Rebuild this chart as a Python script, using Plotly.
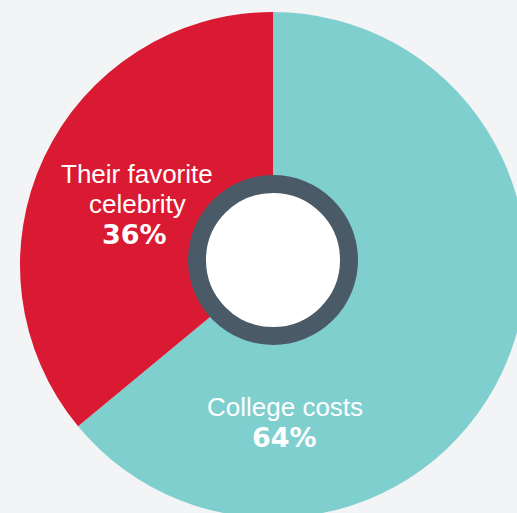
import plotly.graph_objects as go

# Survey split (listed clockwise from 12 o'clock)
categories = ["College costs", "Their favorite<br>celebrity"]
shares = [64, 36]
colors = ["#80cfcf", "#da1a32"]

# Canvas (slightly larger than the viewport so the pie bleeds off the edges)
W, H = 530, 520
BG = "#f3f4f6"
RING = "#4a5a67"

# Pie geometry in pixels
cx, cy, r = 273, 265, 253


def px(x):
    return x / W


def py(y):
    return 1 - y / H


fig = go.Figure(
    go.Pie(
        labels=[c.replace("<br>", " ") for c in categories],
        values=shares,
        marker=dict(colors=colors, line=dict(width=0)),
        sort=False,
        direction="clockwise",
        rotation=0,
        textinfo="none",
        hoverinfo="label+percent",
        showlegend=False,
        domain=dict(x=[px(cx - r), px(cx + r)], y=[py(cy + r), py(cy - r)]),
    )
)

# Centre badge: white disc with a dark slate ring
rc, ring_w, ry = 76, 18, 260
fig.add_shape(
    type="circle", xref="paper", yref="paper",
    x0=px(cx - rc), x1=px(cx + rc), y0=py(ry + rc), y1=py(ry - rc),
    fillcolor="white", line=dict(color=RING, width=ring_w), layer="above",
)

label_font = dict(family="Liberation Sans, Arial, sans-serif", size=26, color="white")
pct_font = dict(family="DejaVu Sans, sans-serif", size=27, color="white", weight="bold")

# Label anchors (pixel centres): x, then y of each text line, then y of the percentage
label_x = [284.5, 137]
label_line_y = [[407], [174, 204]]
pct_x = [284.5, 134.5]
pct_y = [437, 235]

for cat, val, lx, lys, vx, vy in zip(categories, shares, label_x, label_line_y, pct_x, pct_y):
    for line, ly in zip(cat.split("<br>"), lys):
        fig.add_annotation(
            x=px(lx), y=py(ly), xref="paper", yref="paper",
            text=line, showarrow=False, font=label_font,
            xanchor="center", yanchor="middle", align="center",
        )
    fig.add_annotation(
        x=px(vx), y=py(vy), xref="paper", yref="paper",
        text=f"<b>{val}%</b>", showarrow=False, font=pct_font,
        xanchor="center", yanchor="middle",
    )

fig.update_layout(
    width=W, height=H,
    margin=dict(l=0, r=0, t=0, b=0),
    paper_bgcolor=BG, plot_bgcolor=BG,
)

fig.write_html(
    "out.html",
    config={"displayModeBar": False},
    post_script="document.documentElement.style.overflow='hidden';"
                "document.body.style.overflow='hidden';"
                "document.body.style.margin='0';"
                "document.body.style.background='" + BG + "';",
)
